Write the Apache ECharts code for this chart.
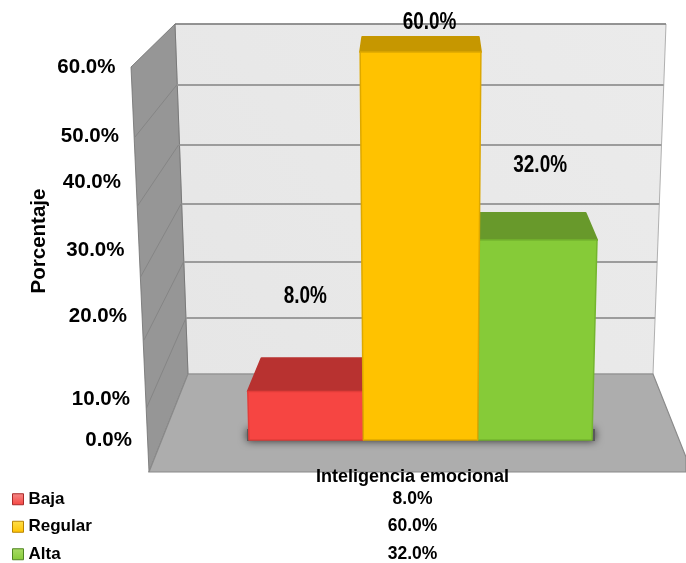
<!DOCTYPE html>
<html>
<head>
<meta charset="utf-8">
<title>Inteligencia emocional</title>
<style>html,body{margin:0;padding:0;background:#fff}#chart{width:686px;height:563px}</style>
<script src="https://cdn.jsdelivr.net/npm/echarts@6/dist/echarts.min.js"></script>
</head>
<body>
<div id="chart"></div>
<script>
// Values
const categories = ['Inteligencia emocional'];
const seriesNames = ['Baja', 'Regular', 'Alta'];
const seriesValues = [8.0, 60.0, 32.0];
const yTicks = [0, 10, 20, 30, 40, 50, 60];

// Styling per series
const faceColors = ['#F64542', '#FFC200', '#86CB38'];
const faceEdges = ['#E23C39', '#DDA800', '#74B52E'];
const topColors = ['#B83230', '#C69700', '#68992B'];
const iconLight = ['#F58A88', '#FFE04A', '#A9DC66'];
const iconDark = ['#A82A29', '#B98400', '#4F8522'];

// Layout offsets
const labelShift = [[0, -95.5], [9, -29.5], [2, -75]];
const tableRows = [499.5, 526.5, 554];
const tickRight = [132, 130, 127, 124.5, 121, 119, 115.5];
const tickShift = [0.5, 24.2, 5.8, 4.5, 0.9, 19.8, 15.2];
const wallLevels = [85, 145, 204, 262, 318];
const sideLevels = [[176.7, 85, 135, 137], [178.5, 145, 137.5, 206], [181, 204, 140.5, 277], [183.5, 262, 144, 340], [186, 318, 146.5, 408]];

// Perspective of the drawing: scale squeezes toward the floor, faces lean to the centre
const GRID_TOP = 52, GRID_BASE = 440, VANISH_X = 420;
function sag(py) {
  const t = (GRID_BASE - py) / (GRID_BASE - GRID_TOP);
  return py + 27.7 * t * (1 - t);
}
function lean(x, py) {
  return VANISH_X + (x - VANISH_X) * (1 + 0.000145 * (GRID_BASE - py));
}

function renderBar(params, api) {
  const i = params.seriesIndex;
  const value = api.value(1);
  const base = api.coord([0, 0]);
  const top = api.coord([0, value]);
  const band = api.size([1, 0])[0];
  const left = base[0] - band / 2 + i * band / 3;
  const right = left + band / 3;
  const topY = sag(top[1]);
  const t = value / 60;
  const depth = 34 - 19 * Math.pow(t, 1.6);
  const fl = lean(left, topY), fr = lean(right, topY);
  const back = x => x + (VANISH_X - x) * 0.0024 * depth;
  return {
    type: 'group',
    children: [
      {
        type: 'polygon',
        shape: { points: [[fl, topY], [fr, topY], [back(fr), topY - depth], [back(fl), topY - depth]] },
        style: { fill: topColors[i], stroke: topColors[i], lineWidth: 2, lineJoin: 'round' }
      },
      {
        type: 'polygon',
        shape: { points: [[fl, topY], [fr, topY], [right, GRID_BASE], [left, GRID_BASE]] },
        style: { fill: faceColors[i], stroke: faceEdges[i], lineWidth: 1.5, lineJoin: 'round' }
      },
      {
        type: 'text',
        x: (fl + fr) / 2 + labelShift[i][0],
        y: topY + labelShift[i][1],
        scaleX: 0.79,
        style: {
          text: value.toFixed(1) + '%',
          font: 'bold 24px "Liberation Sans"',
          fill: '#000',
          align: 'center',
          verticalAlign: 'middle'
        }
      },
      {
        type: 'text',
        x: base[0] - 8,
        y: tableRows[i],
        style: {
          text: value.toFixed(1) + '%',
          font: 'bold 17.5px "Liberation Sans"',
          fill: '#000',
          align: 'center',
          verticalAlign: 'middle'
        }
      }
    ]
  };
}

function renderTick(params, api) {
  const i = params.dataIndex;
  const v = api.value(1);
  return {
    type: 'text',
    x: tickRight[i],
    y: api.coord([0, v])[1] + tickShift[i],
    style: {
      text: v.toFixed(1) + '%',
      font: 'bold 20.5px "Liberation Sans"',
      fill: '#000',
      align: 'right',
      verticalAlign: 'middle'
    }
  };
}

// Room: back wall, side wall, floor and the shadow under the bars
const backEdge = y => (y - 24) * 13 / 350;
const room = [
  { type: 'polygon', z: 0, shape: { points: [[175, 24], [666, 24], [653, 374], [188, 374]] },
    style: { fill: new echarts.graphic.LinearGradient(1, 0, 0, 1, [{ offset: 0, color: '#EBEBEB' }, { offset: 1, color: '#E6E6E6' }]), stroke: '#B0B0B0', lineWidth: 1 } },
  { type: 'line', z: 0, shape: { x1: 175, y1: 24, x2: 666, y2: 24 }, style: { stroke: '#7E7E7E', lineWidth: 1.5 } },
  { type: 'polygon', z: 0, shape: { points: [[175, 24], [188, 374], [149, 472], [131, 67]] },
    style: { fill: '#969696', stroke: '#6E6E6E', lineWidth: 0.8 } },
  { type: 'polygon', z: 0, shape: { points: [[188, 374], [653, 374], [686, 457], [686, 472], [149, 472]] },
    style: { fill: '#ADADAD', stroke: '#8A8A8A', lineWidth: 1.2 } },
  { type: 'rect', z: 0, shape: { x: 247, y: 429, width: 348, height: 12 },
    style: { fill: '#5A5A5A', shadowBlur: 9, shadowColor: '#2E2E2E' } }
];
wallLevels.forEach(y => room.push({
  type: 'line', z: 0,
  shape: { x1: 175 + backEdge(y), y1: y, x2: 666 - backEdge(y), y2: y },
  style: { stroke: '#9C9C9C', lineWidth: 2 }
}));
sideLevels.forEach(s => room.push({
  type: 'line', z: 0,
  shape: { x1: s[0], y1: s[1], x2: s[2], y2: s[3] },
  style: { stroke: '#858585', lineWidth: 1 }
}));

const chart = echarts.init(document.getElementById('chart'), null, { renderer: 'canvas' });
chart.setOption({
  animation: false,
  backgroundColor: '#fff',
  graphic: { elements: room },
  grid: { left: 249, right: 94, top: GRID_TOP, bottom: 563 - GRID_BASE, containLabel: false },
  legend: {
    orient: 'vertical',
    left: 12,
    top: 489.5,
    height: 90,
    padding: 0,
    icon: 'rect',
    itemWidth: 11,
    itemHeight: 11,
    itemGap: 8,
    selectedMode: false,
    textStyle: { fontFamily: 'Liberation Sans', fontWeight: 'bold', fontSize: 17, lineHeight: 19.5, color: '#000' },
    data: seriesNames.map((name, i) => ({
      name,
      itemStyle: {
        color: new echarts.graphic.LinearGradient(0, 0, 0, 1, [{ offset: 0, color: iconLight[i] }, { offset: 1, color: faceColors[i] }]),
        borderColor: iconDark[i],
        borderWidth: 1
      }
    }))
  },
  xAxis: {
    type: 'category',
    data: categories,
    axisLine: { show: false },
    axisTick: { show: false },
    axisLabel: {
      margin: 28,
      interval: 0,
      color: '#000',
      fontFamily: 'Liberation Sans',
      fontWeight: 'bold',
      fontSize: 18,
      padding: [0, 16, 0, 0]
    }
  },
  yAxis: {
    type: 'value',
    min: 0,
    max: 60,
    interval: 10,
    name: 'Porcentaje',
    nameLocation: 'middle',
    nameGap: 199,
    nameTextStyle: { fontFamily: 'Liberation Sans', fontWeight: 'bold', fontSize: 20.5, color: '#000', padding: [0, 0, 0, 10] },
    axisLine: { show: false },
    axisTick: { show: false },
    axisLabel: { show: false },
    splitLine: { show: false }
  },
  series: seriesNames.map((name, i) => ({
    type: 'custom',
    name,
    z: name === 'Regular' ? 4 : 3,
    itemStyle: { color: faceColors[i] },
    encode: { x: 0, y: 1 },
    data: [[0, seriesValues[i]]],
    renderItem: renderBar,
    silent: true
  })).concat([{
    type: 'custom',
    name: 'Escala',
    z: 5,
    encode: { x: 0, y: 1 },
    data: yTicks.map(v => [0, v]),
    renderItem: renderTick,
    silent: true
  }])
});
</script>
</body>
</html>
